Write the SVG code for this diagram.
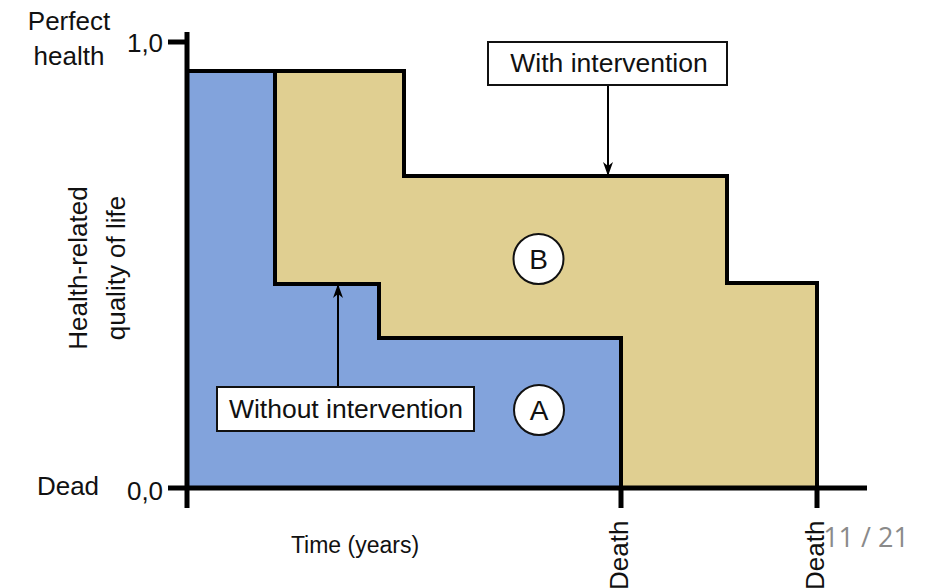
<svg xmlns="http://www.w3.org/2000/svg" width="928" height="588" viewBox="0 0 928 588">
<style>
text{font-family:"Liberation Sans",Arial,sans-serif;fill:#111}
.lbl{font-size:26.5px}
.ax{font-size:26px}
.edge{fill:none;stroke:#000;stroke-width:4;stroke-linejoin:miter}
.axis{stroke:#000;stroke-width:5;fill:none}
.box{fill:#fff;stroke:#111;stroke-width:2}
.conn{stroke:#000;stroke-width:2;fill:none}
.circ{fill:#fff;stroke:#111;stroke-width:2}
</style>
<defs>
<marker id="ah" viewBox="0 0 14 10" refX="13" refY="5" markerWidth="14" markerHeight="10" markerUnits="userSpaceOnUse" orient="auto">
<path d="M0,0 L14,5 L0,10 L4,5 Z" fill="#000"/>
</marker>
</defs>
<rect width="928" height="588" fill="#fff"/>
<g id="areaB">
<path d="M275,71 H404 V176 H727 V283 H817 V488 H621 V338 H379 V284 H275 Z" fill="#e0cf91"/>
</g>
<g id="areaA">
<path d="M187,71 H275 V284 H379 V338 H621 V488 H187 Z" fill="#82a3dc"/>
</g>
<g id="outlines">
<path class="edge" d="M187,71 H404 V176 H727 V283 H817 V488"/>
<path class="edge" d="M275,71 V284 H379 V338 H621 V488"/>
</g>
<g id="axes">
<path class="axis" d="M187,32 V508"/>
<path class="axis" d="M168,42 H187"/>
<path class="axis" d="M168,488 H867"/>
<path class="axis" d="M621,488 V508"/>
<path class="axis" d="M817,488 V508"/>
</g>
<g id="axis-labels">
<text class="ax" x="69" y="30" text-anchor="middle">Perfect</text>
<text class="ax" x="69" y="65" text-anchor="middle">health</text>
<text class="ax" x="145" y="52" text-anchor="middle">1,0</text>
<text class="ax" x="68" y="495" text-anchor="middle">Dead</text>
<text class="ax" x="145" y="500" text-anchor="middle">0,0</text>
<text class="ax" transform="translate(87,268) rotate(-90)" text-anchor="middle">Health-related</text>
<text class="ax" transform="translate(125,268) rotate(-90)" text-anchor="middle">quality of life</text>
<text x="355" y="553" text-anchor="middle" font-size="23">Time (years)</text>
<text class="ax" transform="translate(628,590) rotate(-90)">Death</text>
<text class="ax" transform="translate(824,590) rotate(-90)">Death</text>
</g>
<g id="connectors">
<path class="conn" d="M608,85 V175" marker-end="url(#ah)"/>
<path class="conn" d="M338,387 V285" marker-end="url(#ah)"/>
</g>
<g id="with-intervention">
<rect class="box" x="488" y="42" width="239" height="43"/>
<text class="lbl" x="609" y="72" text-anchor="middle">With intervention</text>
</g>
<g id="without-intervention">
<rect class="box" x="217" y="387" width="257" height="44"/>
<text class="lbl" x="346" y="418" text-anchor="middle">Without intervention</text>
</g>
<g id="circle-B">
<circle class="circ" cx="538.5" cy="259" r="25"/>
<text x="538.5" y="269" text-anchor="middle" font-size="28">B</text>
</g>
<g id="circle-A">
<circle class="circ" cx="539" cy="410" r="25"/>
<text x="539" y="420" text-anchor="middle" font-size="28">A</text>
</g>
<text x="866" y="547" text-anchor="middle" font-size="27" style="font-family:'Open Sans','Noto Sans',sans-serif;fill:#8a8a8a">11 / 21</text>
</svg>
